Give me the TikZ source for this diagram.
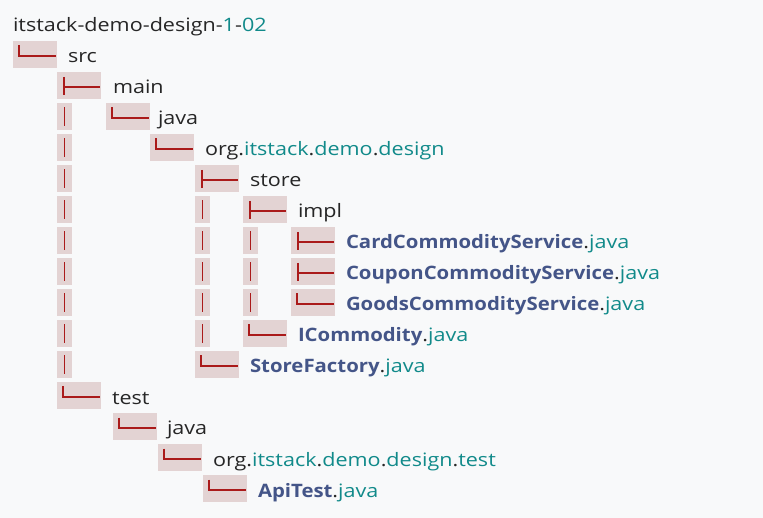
\documentclass[tikz,border=0pt]{standalone}
\usepackage{fontspec}
\setmainfont{Open Sans}[FakeStretch=1.165,BoldFeatures={FakeStretch=1.1}]
\definecolor{bgc}{HTML}{F8F9FA}
\definecolor{boxc}{HTML}{E3D3D3}
\definecolor{redc}{HTML}{AA1A1A}
\definecolor{darkc}{HTML}{262626}
\definecolor{tealc}{HTML}{118A8A}
\definecolor{clsc}{HTML}{445588}
\tikzset{
  treeline/.style={draw=redc,line width=1.6pt},
  txt/.style={anchor=base west,inner sep=0pt,outer sep=0pt,text=darkc,font=\fontsize{18.5}{21}\selectfont},
}
\newcommand{\elbowbox}[2]{%
  \pgfmathsetmacro\tp{10+31*#2}%
  \fill[boxc] (#1,\tp) rectangle ++(44,27);
  \draw[treeline] (#1+6,\tp+4.5) -- (#1+6,\tp+15) -- (#1+43,\tp+15);
}
\newcommand{\teebox}[2]{%
  \pgfmathsetmacro\tp{10+31*#2}%
  \fill[boxc] (#1,\tp) rectangle ++(44,27);
  \draw[treeline] (#1+7,\tp+5) -- (#1+7,\tp+23);
  \draw[treeline] (#1+7,\tp+15) -- (#1+43,\tp+15);
}
\newcommand{\pipebox}[2]{%
  \pgfmathsetmacro\tp{10+31*#2}%
  \fill[boxc] (#1,\tp) rectangle ++(15,27);
  \draw[treeline] (#1+7.5,\tp+4.5) -- (#1+7.5,\tp+23.5);
}
\newcommand{\tl}[1]{\textcolor{tealc}{#1}}
\newcommand{\cls}[1]{\textcolor{clsc}{\bfseries #1}.\tl{java}}
\begin{document}
\begin{tikzpicture}[x=1pt,y=-1pt]
\fill[bgc] (0,0) rectangle (763,518);
\useasboundingbox (0,0) rectangle (763,518);
% row 1
\elbowbox{13}{1}
% row 2
\teebox{57}{2}
% row 3
\pipebox{57}{3}\elbowbox{106}{3}
% row 4
\pipebox{57}{4}\elbowbox{150}{4}
% row 5
\pipebox{57}{5}\teebox{195}{5}
% row 6
\pipebox{57}{6}\pipebox{195}{6}\teebox{243}{6}
% rows 7-9
\pipebox{57}{7}\pipebox{195}{7}\pipebox{243}{7}\teebox{291}{7}
\pipebox{57}{8}\pipebox{195}{8}\pipebox{243}{8}\teebox{291}{8}
\pipebox{57}{9}\pipebox{195}{9}\pipebox{243}{9}\elbowbox{291}{9}
% row 10
\pipebox{57}{10}\pipebox{195}{10}\elbowbox{243}{10}
% row 11
\pipebox{57}{11}\elbowbox{195}{11}
% rows 12-15
\elbowbox{57}{12}
\elbowbox{113}{13}
\elbowbox{158}{14}
\elbowbox{203}{15}
% texts
\node[txt] (t0) at (13,32) {itstack-demo-design-\tl{1}-\tl{02}};
\node[txt] (t1) at (68,63) {src};
\node[txt] (t2) at (113,94) {main};
\node[txt] (t3) at (158,125) {java};
\node[txt] (t4) at (205,156) {org.\tl{itstack}.\tl{demo}.\tl{design}};
\node[txt] (t5) at (250,187) {store};
\node[txt] (t6) at (298,218) {impl};
\node[txt] (t7) at (346,249) {\cls{CardCommodityService}};
\node[txt] (t8) at (346,280) {\cls{CouponCommodityService}};
\node[txt] (t9) at (346,311) {\cls{GoodsCommodityService}};
\node[txt] (t10) at (298,342) {\cls{ICommodity}};
\node[txt] (t11) at (250,373) {\cls{StoreFactory}};
\node[txt] (t12) at (112,404) {test};
\node[txt] (t13) at (167,435) {java};
\node[txt] (t14) at (213,466) {org.\tl{itstack}.\tl{demo}.\tl{design}.\tl{test}};
\node[txt] (t15) at (258,497) {\cls{ApiTest}};
\end{tikzpicture}
\end{document}
